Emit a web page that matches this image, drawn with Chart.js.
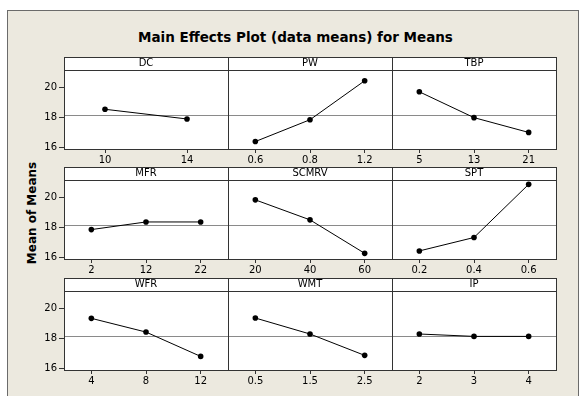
<!DOCTYPE html>
<html>
<head>
<meta charset="utf-8">
<script src="https://cdn.jsdelivr.net/npm/chart.js@4.4.1/dist/chart.umd.min.js"></script>
<style>
  html, body { margin: 0; padding: 0; background: #fff; }
  #page { position: relative; width: 579px; height: 396px; overflow: hidden; background: #fff; }
  #frame { position: absolute; left: 7px; top: 10px; width: 570px; height: 400px; background: #ECE9DF; border: 1px solid #6b6b6b; }
  #title { position: absolute; left: 6px; width: 579px; top: 29px; text-align: center; font: bold 13.5px "DejaVu Sans"; color: #000; }
  #ytitle { position: absolute; left: 32px; top: 213px; transform: translate(-50%, -50%) rotate(-90deg); font: bold 12px "DejaVu Sans"; white-space: nowrap; color: #000; }
  canvas { position: absolute; }
</style>
</head>
<body>
<div id="page">
  <div id="frame"></div>
  <div id="title">Main Effects Plot (data means) for Means</div>
  <div id="ytitle">Mean of Means</div>
</div>
<script>
// factor names, in panel order (row by row)
const factors = ['DC', 'PW', 'TBP', 'MFR', 'SCMRV', 'SPT', 'WFR', 'WMT', 'IP'];

// levels and means
const dcLevels = ['10', '14'];
const dcMeans = [18.54, 17.89];
const pwLevels = ['0.6', '0.8', '1.2'];
const pwMeans = [16.38, 17.84, 20.45];
const tbpLevels = ['5', '13', '21'];
const tbpMeans = [19.71, 17.98, 16.99];
const mfrLevels = ['2', '12', '22'];
const mfrMeans = [17.85, 18.36, 18.36];
const scmrvLevels = ['20', '40', '60'];
const scmrvMeans = [19.84, 18.50, 16.26];
const sptLevels = ['0.2', '0.4', '0.6'];
const sptMeans = [16.42, 17.32, 20.88];
const wfrLevels = ['4', '8', '12'];
const wfrMeans = [19.34, 18.42, 16.79];
const wmtLevels = ['0.5', '1.5', '2.5'];
const wmtMeans = [19.36, 18.29, 16.86];
const ipLevels = ['2', '3', '4'];
const ipMeans = [18.29, 18.13, 18.13];

const yTicks = [16, 18, 20];
const grandMean = 18.18;

const allLevels = [dcLevels, pwLevels, tbpLevels, mfrLevels, scmrvLevels, sptLevels, wfrLevels, wmtLevels, ipLevels];
const allMeans = [dcMeans, pwMeans, tbpMeans, mfrMeans, scmrvMeans, sptMeans, wfrMeans, wmtMeans, ipMeans];

// panel layout
const colLeft = [64, 228, 392];
const rowTop = [57, 167, 278];
const panelW = 164;
const stripH = 13;
const plotH = 79;
const axisH = 20;
const yAxisW = 40;

Chart.defaults.font.family = 'DejaVu Sans';
Chart.defaults.font.size = 10;
Chart.defaults.color = '#000';

const panelFrame = {
    id: 'panelFrame',
    beforeDraw(chart) {
        const { ctx, chartArea: a } = chart;
        ctx.save();
        ctx.fillStyle = '#fff';
        ctx.fillRect(a.left, a.top - stripH, a.right - a.left, a.bottom - a.top + stripH);
        ctx.restore();
    },
    beforeDatasetsDraw(chart) {
        const { ctx, chartArea: a, scales } = chart;
        const y = Math.round(scales.y.getPixelForValue(grandMean)) + 0.5;
        ctx.save();
        ctx.strokeStyle = '#8a8a8a';
        ctx.lineWidth = 1;
        ctx.beginPath();
        ctx.moveTo(a.left, y);
        ctx.lineTo(a.right, y);
        ctx.stroke();
        ctx.restore();
    },
    afterDraw(chart) {
        const { ctx, chartArea: a } = chart;
        const x0 = Math.round(a.left) + 0.5;
        const x1 = Math.round(a.right) + 0.5;
        const y0 = Math.round(a.top - stripH) + 0.5;
        const y1 = Math.round(a.top) + 0.5;
        const y2 = Math.round(a.bottom) + 0.5;
        ctx.save();
        ctx.strokeStyle = '#333';
        ctx.lineWidth = 1;
        ctx.strokeRect(x0, y0, x1 - x0, y2 - y0);
        ctx.beginPath();
        ctx.moveTo(x0, y1);
        ctx.lineTo(x1, y1);
        ctx.stroke();
        ctx.restore();
    }
};

const page = document.getElementById('page');

factors.forEach((name, i) => {
    const row = Math.floor(i / 3);
    const col = i % 3;
    const extra = col === 0 ? yAxisW : 0;

    const canvas = document.createElement('canvas');
    canvas.width = extra + panelW + 1;
    canvas.height = 1 + stripH + plotH + axisH;
    canvas.style.left = (colLeft[col] - extra) + 'px';
    canvas.style.top = (rowTop[row] - 1) + 'px';
    page.appendChild(canvas);

    new Chart(canvas.getContext('2d'), {
        type: 'line',
        data: {
            labels: allLevels[i],
            datasets: [{
                data: allMeans[i],
                borderColor: '#000',
                borderWidth: 1,
                pointRadius: 2.8,
                pointBackgroundColor: '#000',
                pointBorderWidth: 0,
                tension: 0
            }]
        },
        options: {
            responsive: false,
            animation: false,
            events: [],
            layout: { autoPadding: false, padding: { top: 1, right: 1, left: 0, bottom: 0 } },
            plugins: {
                legend: { display: false },
                tooltip: { enabled: false },
                title: {
                    display: true,
                    text: name,
                    fullSize: false,
                    color: '#000',
                    font: { size: 10, weight: 'normal', lineHeight: 1.1 },
                    padding: { top: 1, bottom: 1 }
                }
            },
            scales: {
                x: {
                    type: 'category',
                    offset: true,
                    border: { display: true, color: '#333' },
                    grid: { drawOnChartArea: false, drawTicks: true, tickLength: 4, offset: false, color: '#333' },
                    ticks: { padding: 1, color: '#000', maxRotation: 0, autoSkip: false },
                    afterFit: (axis) => { axis.height = axisH; }
                },
                y: {
                    display: col === 0,
                    min: 15.88,
                    max: 21.17,
                    border: { display: true, color: '#333' },
                    grid: { drawOnChartArea: false, drawTicks: true, tickLength: 5, color: '#333' },
                    ticks: { padding: 2, color: '#000' },
                    afterBuildTicks: (axis) => { axis.ticks = yTicks.map(v => ({ value: v })); },
                    afterFit: (axis) => { axis.width = col === 0 ? yAxisW : 0; }
                }
            }
        },
        plugins: [panelFrame]
    });
});
</script>
</body>
</html>
